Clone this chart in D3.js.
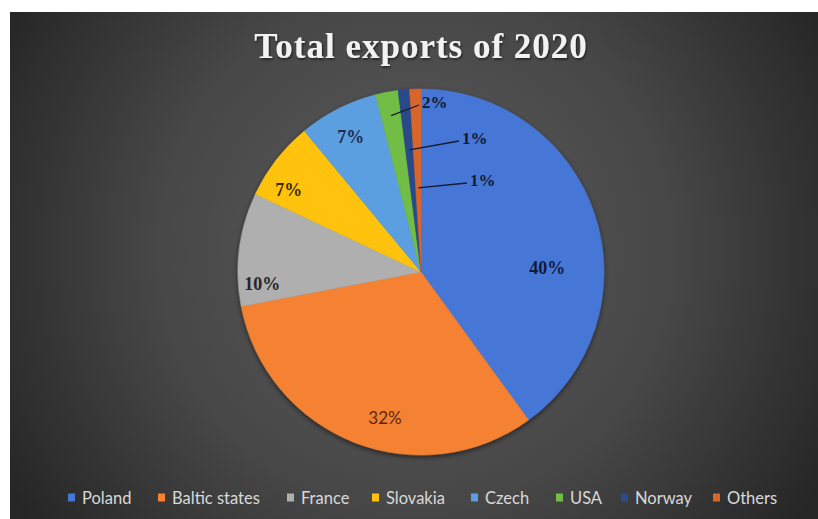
<!DOCTYPE html>
<html>
<head>
<meta charset="utf-8">
<script src="https://cdn.jsdelivr.net/npm/d3@7"></script>
<style>
  html, body { margin: 0; padding: 0; background: #ffffff; }
  svg { display: block; }
</style>
</head>
<body>
<svg id="chart" width="818" height="519"></svg>
<script>
// Export shares for 2020, in percent, going clockwise from 12 o'clock
const categories = ["Poland", "Baltic states", "France", "Slovakia", "Czech", "USA", "Norway", "Others"];
const shares = [40, 32, 10, 7, 7, 2, 1, 1];
const labels = ["40%", "32%", "10%", "7%", "7%", "2%", "1%", "1%"];
const colors = ["#4677d6", "#f48232", "#afafaf", "#ffc20e", "#5c9fe0", "#72bd45", "#2b4a8a", "#d8652a"];
const labelColors = ["#121a38", "#62260c", "#262626", "#3b2a00", "#1c2d52", "#141a30", "#141a30", "#141a30"];

const W = 818, H = 519;
const svg = d3.select("#chart");
const defs = svg.append("defs");

// Dark radial backdrop
const bg = defs.append("radialGradient").attr("id", "bg")
  .attr("gradientUnits", "userSpaceOnUse")
  .attr("cx", 414).attr("cy", 250).attr("r", 470);
bg.append("stop").attr("offset", "0%").attr("stop-color", "#5c5c5c");
bg.append("stop").attr("offset", "55%").attr("stop-color", "#474747");
bg.append("stop").attr("offset", "100%").attr("stop-color", "#262626");

const shadow = defs.append("filter").attr("id", "pieShadow")
  .attr("x", "-10%").attr("y", "-10%").attr("width", "120%").attr("height", "120%");
shadow.append("feDropShadow").attr("dx", 0).attr("dy", 2).attr("stdDeviation", 2.5)
  .attr("flood-color", "#000").attr("flood-opacity", 0.55);

const titleShadow = defs.append("filter").attr("id", "titleShadow");
titleShadow.append("feDropShadow").attr("dx", 1).attr("dy", 1.5).attr("stdDeviation", 1)
  .attr("flood-color", "#000").attr("flood-opacity", 0.6);

svg.append("rect").attr("x", 10).attr("y", 12).attr("width", W - 10).attr("height", H - 12)
  .attr("fill", "url(#bg)");

// Title
svg.append("text")
  .attr("x", 421).attr("y", 58)
  .attr("text-anchor", "middle")
  .attr("font-family", "'Liberation Serif', 'Times New Roman', serif")
  .attr("font-weight", "bold")
  .attr("font-size", 35)
  .attr("letter-spacing", 1)
  .attr("fill", "#f2f2f2")
  .attr("filter", "url(#titleShadow)")
  .text("Total exports of 2020");

// Pie
const cx = 421, cy = 272, R = 183;
const pie = d3.pie().sort(null).value(d => d)(shares);
const arc = d3.arc().innerRadius(0).outerRadius(R);

const g = svg.append("g").attr("transform", `translate(${cx},${cy})`);
g.append("g").attr("filter", "url(#pieShadow)")
  .selectAll("path").data(pie).join("path")
  .attr("d", arc)
  .attr("fill", (d, i) => colors[i])
  .attr("stroke", (d, i) => colors[i])
  .attr("stroke-width", 0.5);

// Label placement for the large slices: radius fraction and angular shift (degrees) from the slice middle
const serif = "'Liberation Serif', 'Times New Roman', serif";
const sans = "Lato, 'Open Sans', sans-serif";
const labelSpec = [
  { r: 0.69, shift: 16, font: serif, size: 18, weight: "bold" },
  { r: 0.82, shift: -7.7, font: sans, size: 17, weight: "normal" },
  { r: 0.87, shift: -11.5, font: serif, size: 18, weight: "bold" },
  { r: 0.85, shift: -6, font: serif, size: 18, weight: "bold" },
  { r: 0.83, shift: -0.6, font: serif, size: 18, weight: "bold" }
];

pie.slice(0, 5).forEach((d, i) => {
  const spec = labelSpec[i];
  const a = (d.startAngle + d.endAngle) / 2 + spec.shift * Math.PI / 180;
  const x = Math.sin(a) * R * spec.r;
  const y = -Math.cos(a) * R * spec.r;
  g.append("text")
    .attr("x", x).attr("y", y)
    .attr("text-anchor", "middle")
    .attr("dominant-baseline", "central")
    .attr("font-family", spec.font)
    .attr("font-size", spec.size)
    .attr("font-weight", spec.weight)
    .attr("fill", labelColors[i])
    .text(labels[i]);
});

// Thin slices near the top: leader from the slice to an offset label
const leaders = [
  { i: 5, rIn: 0.87, tx: 1, ty: -170 },
  { i: 6, rIn: 0.67, tx: 41, ty: -134 },
  { i: 7, rIn: 0.46, tx: 49, ty: -92 }
];
leaders.forEach(L => {
  const d = pie[L.i];
  const a = (d.startAngle + d.endAngle) / 2;
  const x0 = Math.sin(a) * R * L.rIn;
  const y0 = -Math.cos(a) * R * L.rIn;
  g.append("path")
    .attr("d", `M${x0},${y0} L${L.tx - 3},${L.ty + 3}`)
    .attr("stroke", "#141a30").attr("stroke-width", 1.3).attr("fill", "none");
  g.append("text")
    .attr("x", L.tx).attr("y", L.ty)
    .attr("dominant-baseline", "central")
    .attr("font-family", serif)
    .attr("font-size", 17)
    .attr("font-weight", "bold")
    .attr("fill", labelColors[L.i])
    .text(labels[L.i]);
});

// Legend
const legendX = [68, 158, 287, 372, 471, 556, 621, 713];
const legend = svg.append("g");
categories.forEach((c, i) => {
  const gi = legend.append("g").attr("transform", `translate(${legendX[i]},498)`);
  gi.append("rect").attr("x", 0).attr("y", -4.5).attr("width", 7).attr("height", 8)
    .attr("fill", colors[i]);
  gi.append("text").attr("x", 14).attr("y", 0)
    .attr("dominant-baseline", "central")
    .attr("font-family", sans)
    .attr("font-size", 16.5)
    .attr("fill", "#d9d9d9")
    .text(c);
});
</script>
</body>
</html>
